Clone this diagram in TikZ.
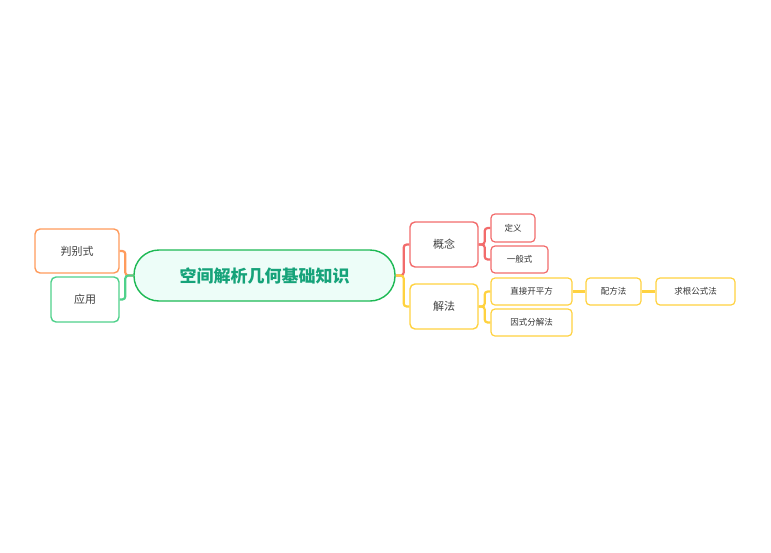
\documentclass[tikz,border=0pt]{standalone}
\usepackage{fontspec}
\setmainfont{Noto Sans CJK SC}
\usetikzlibrary{positioning,backgrounds}
\definecolor{rootgreen}{HTML}{1DB954}
\definecolor{roottext}{HTML}{16A37A}
\definecolor{rootfill}{HTML}{EDFDF8}
\definecolor{cred}{HTML}{F26B6B}
\definecolor{cyellow}{HTML}{FFD23F}
\definecolor{corange}{HTML}{FF9B5C}
\definecolor{cgreen}{HTML}{4FD18B}
\tikzset{
  topic/.style={draw,rounded corners=5pt,line width=1.4pt,fill=white,
    inner sep=0pt,font=\fontsize{11}{13}\selectfont,text=black!75},
  subtopic/.style={draw,rounded corners=4pt,line width=1.2pt,fill=white,
    inner sep=0pt,font=\fontsize{8.5}{10}\selectfont,text=black!80},
  branch/.style={line width=2.2pt,rounded corners=3pt},
}
\begin{document}
\begin{tikzpicture}[x=1pt,y=-1pt]
  \useasboundingbox (0,0) rectangle (771,552);

  % root
  \node [draw=rootgreen,fill=rootfill,line width=1.4pt,rounded corners=25pt,
    minimum width=261pt,minimum height=51pt,text=roottext,
    font=\fontsize{17}{20}\selectfont\bfseries] (root) at (264.5,275.5) {空间解析几何基础知识};

  % left side
  \node [topic,draw=corange,minimum width=84pt,minimum height=44pt] (panbie) at (77,251) {判别式};
  \node [topic,draw=cgreen,minimum width=68pt,minimum height=45pt] (yingyong) at (85,299.5) {应用};

  % right side
  \node [topic,draw=cred,minimum width=68pt,minimum height=45pt] (gainian) at (444,244.5) {概念};
  \node [topic,draw=cyellow,minimum width=68pt,minimum height=45pt] (jiefa) at (444,306.5) {解法};
  \node [subtopic,draw=cred,minimum width=44pt,minimum height=28pt] (dingyi) at (513,228) {定义};
  \node [subtopic,draw=cred,minimum width=57pt,minimum height=27pt] (yiban) at (519.5,259.5) {一般式};
  \node [subtopic,draw=cyellow,minimum width=81pt,minimum height=27pt] (zhijie) at (531.5,291.5) {直接开平方};
  \node [subtopic,draw=cyellow,minimum width=81pt,minimum height=27pt] (yinshi) at (531.5,322.5) {因式分解法};
  \node [subtopic,draw=cyellow,minimum width=55pt,minimum height=27pt] (peifang) at (613.5,291.5) {配方法};
  \node [subtopic,draw=cyellow,minimum width=79pt,minimum height=27pt] (qiugen) at (695.5,291.5) {求根公式法};

  % branches
  \begin{scope}[on background layer]
    \draw [branch,corange] (root.west) -- ++(-8,0) |- (panbie.east);
    \draw [branch,cgreen] (root.west) -- ++(-8,0) |- (yingyong.east);
    \draw [branch,cred] (root.east) -- ++(8,0) |- (gainian.west);
    \draw [branch,cyellow] (root.east) -- ++(8,0) |- (jiefa.west);
    \draw [branch,cred] (gainian.east) -- ++(6,0) |- (dingyi.west);
    \draw [branch,cred] (gainian.east) -- ++(6,0) |- (yiban.west);
    \draw [branch,cyellow] (jiefa.east) -- ++(6,0) |- (zhijie.west);
    \draw [branch,cyellow] (jiefa.east) -- ++(6,0) |- (yinshi.west);
    \draw [branch,cyellow] (zhijie) -- (peifang);
    \draw [branch,cyellow] (peifang) -- (qiugen);
  \end{scope}
\end{tikzpicture}
\end{document}
